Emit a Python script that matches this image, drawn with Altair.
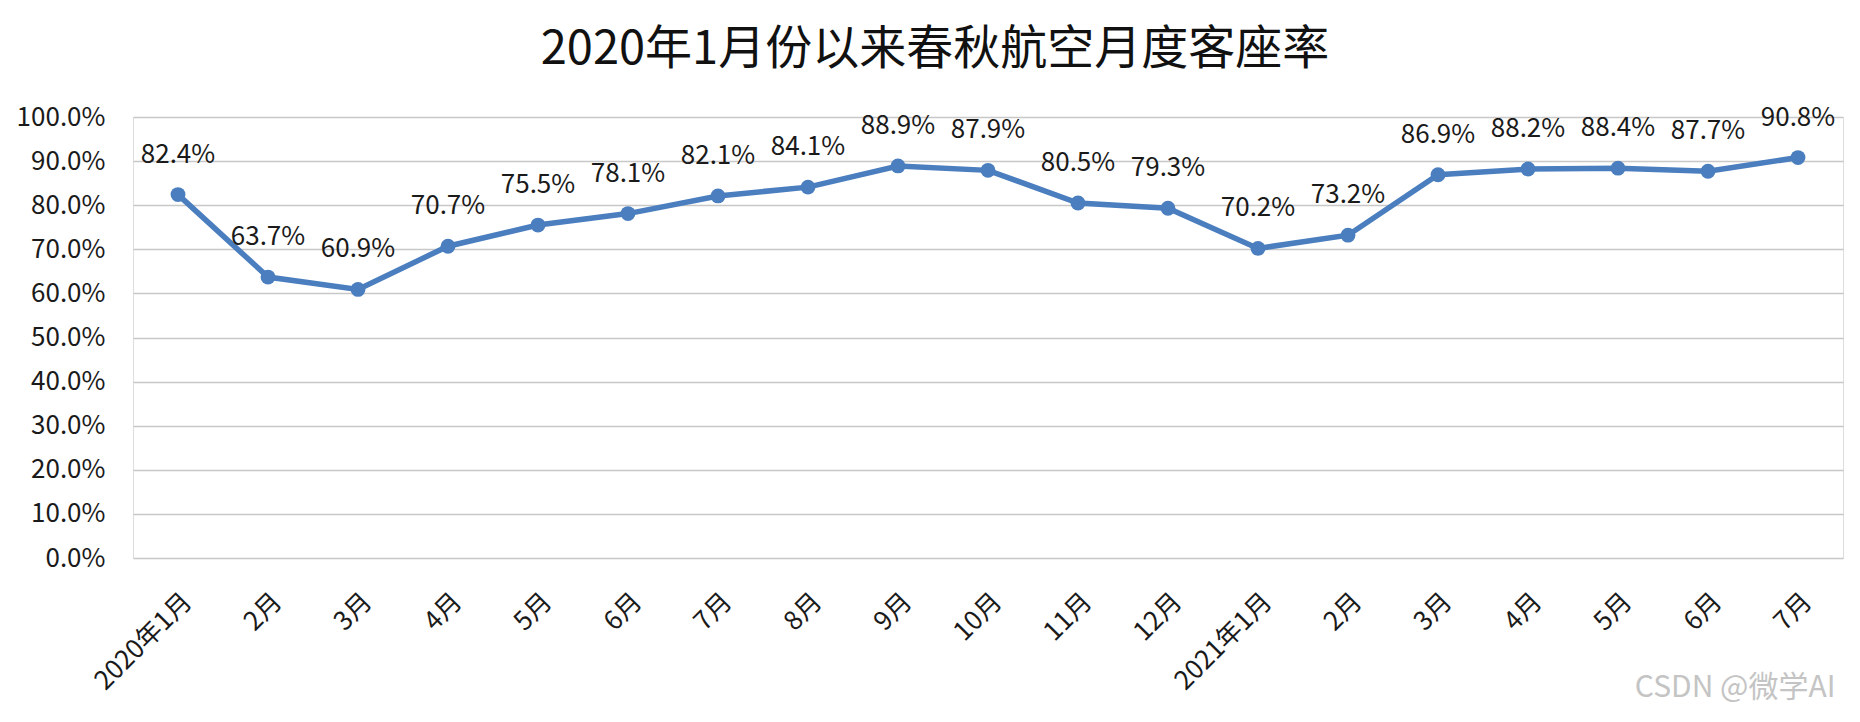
import json
import altair as alt
import pandas as pd

# ---- data ----
month_labels = ["2020年1月", "2月", "3月", "4月", "5月", "6月", "7月", "8月", "9月",
                "10月", "11月", "12月", "2021年1月", "2月", "3月", "4月", "5月", "6月", "7月"]
load_factor = [0.824, 0.637, 0.609, 0.707, 0.755, 0.781, 0.821, 0.841, 0.889, 0.879,
               0.805, 0.793, 0.702, 0.732, 0.869, 0.882, 0.884, 0.877, 0.908]
y_ticks = [0.0, 0.1, 0.2, 0.3, 0.4, 0.5, 0.6, 0.7, 0.8, 0.9, 1.0]
title_text = "2020年1月份以来春秋航空月度客座率"
watermark_text = "CSDN @微学AI"

df = pd.DataFrame({"idx": list(range(len(month_labels))), "rate": load_factor})

FONT = "Noto Sans CJK SC"
BLUE = "#4a7ebf"
label_expr = json.dumps(month_labels, ensure_ascii=False) + "[datum.value]"

x_enc = alt.X(
    "idx:O",
    scale=alt.Scale(type="point", padding=0.5),
    axis=alt.Axis(
        title=watermark_text, titleFont=FONT, titleFontSize=30, titleFontWeight="normal",
        titleColor="#c4c4c4", titleAnchor="end", titleAlign="right",
        titleBaseline="middle", titleX=1702, titleY=129,
        labelExpr=label_expr, labelAngle=-45, labelAlign="right",
        labelBaseline="top", labelPadding=30, labelFontSize=26, labelFont=FONT,
        labelColor="#1a1a1a", ticks=False, domain=False, grid=False,
    ),
)
y_enc = alt.Y(
    "rate:Q",
    scale=alt.Scale(domain=[0, 1], nice=False, zero=True),
    axis=alt.Axis(
        title=None, values=y_ticks, format=".1%", labelFontSize=26, labelFont=FONT,
        labelColor="#1a1a1a", labelPadding=28, ticks=False, domain=False,
        grid=True, gridColor="#c8c8c8", gridWidth=1.5,
    ),
)

base = alt.Chart(df).encode(x=x_enc, y=y_enc)

line = base.mark_line(color=BLUE, strokeWidth=5.5)
points = base.mark_point(filled=True, color=BLUE, size=220, opacity=1)
labels = base.mark_text(
    dy=-40, fontSize=26, font=FONT, color="#1a1a1a", baseline="middle", align="center"
).encode(text=alt.Text("rate:Q", format=".1%"))

chart = (
    alt.layer(line, points, labels)
    .properties(
        width=1710,
        height=441,
        autosize=alt.AutoSizeParams(type="none"),
        padding={"left": 125, "top": 109, "right": 9, "bottom": 155},
        title=alt.TitleParams(
            title_text, fontSize=47, font=FONT, fontWeight="normal", color="#111111",
            anchor="middle", dx=-53, offset=30,
        ),
    )
    .configure_view(strokeWidth=0, stroke="transparent")
    .configure(background="white")
)

chart.save("out.html", embed_options={"renderer": "svg", "actions": False})
